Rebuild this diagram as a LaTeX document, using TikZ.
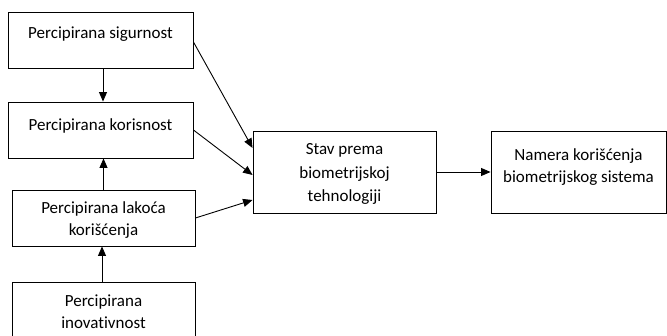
\documentclass[tikz,border=0pt]{standalone}
\usepackage{fontspec}
\setmainfont{Carlito}[Ligatures=CommonOff]
\usetikzlibrary{arrows.meta}
\begin{document}
\begin{tikzpicture}[x=1pt,y=-1pt,
  box/.style={draw, line width=0.9pt, inner sep=0pt},
  lbl/.style={align=center, font=\fontsize{17}{22}\selectfont, inner sep=0pt},
  arr/.style={line width=0.9pt, -{Triangle[length=9.5pt,width=8pt]}}]
\useasboundingbox (0,0) rectangle (667,336);

% factor boxes on the left
\node[box, minimum width=185pt, minimum height=56pt] (sig) at (100.5,40) {};
\node[box, minimum width=185pt, minimum height=56pt] (kor) at (100.5,130) {};
\node[box, minimum width=183pt, minimum height=56pt] (lak) at (103.5,218) {};
\node[box, minimum width=183pt, minimum height=64pt] (ino) at (103.5,314) {};

% attitude and intention boxes
\node[box, minimum width=183pt, minimum height=82pt] (stav) at (344.5,172) {};
\node[box, minimum width=175pt, minimum height=82pt] (nam) at (578.5,172) {};

% labels
\node[lbl] (sigT) at (100.5,34) {Percipirana sigurnost};
\node[lbl] (korT) at (100.5,126) {Percipirana korisnost};
\node[lbl] (lakT) at (103.5,220) {Percipirana lakoća\\korišćenja};
\node[lbl] (inoT) at (103.5,312) {Percipirana\\inovativnost};
\node[lbl, align=center] (stavT) at (344.5,174) {Stav prema\\[1.5pt]biometrijskoj\\[1.5pt]tehnologiji};
\node[lbl] (namT) at (578.5,167.5) {Namera korišćenja\\biometrijskog sistema};

% connectors
\draw[arr] ([xshift=2.5pt]sig.south) -- ([xshift=2.5pt]kor.north);
\draw[arr] (lak.north) -- (lak.north |- kor.south);
\draw[arr] ([xshift=-1.5pt]ino.north) -- ([xshift=-1.5pt]lak.south);
\draw[arr] ([yshift=-2pt]sig.east) -- ([yshift=24pt]stav.west);
\draw[arr] (kor.east) -- ([yshift=-3pt]stav.west);
\draw[arr] (lak.east) -- ([yshift=-28pt]stav.west);
\draw[arr] (stav.east) -- (nam.west);
\end{tikzpicture}
\end{document}
